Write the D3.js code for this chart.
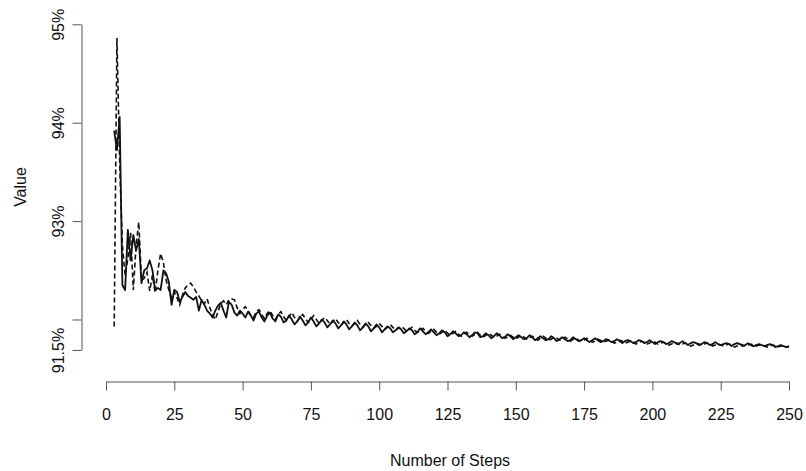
<!DOCTYPE html>
<html><head><meta charset="utf-8">
<script src="https://cdn.jsdelivr.net/npm/d3@7"></script>
<style>
html,body{margin:0;padding:0;background:#fff;}
text{font-family:"Liberation Sans",Arial,Helvetica,sans-serif;fill:#111;}
</style></head>
<body><svg id="c" width="806" height="471"></svg>
<script>
const firstStep = 3;
const solidValues = [
93.92,93.72,94.06,92.35,92.30,92.91,92.60,92.86,92.70,92.82,
92.37,92.50,92.52,92.60,92.50,92.30,92.32,92.30,92.50,92.47,
92.38,92.15,92.30,92.28,92.18,92.23,92.28,92.24,92.22,92.20,
92.23,92.09,92.20,92.15,92.09,92.06,92.02,92.09,92.14,92.17,
92.09,92.02,92.18,92.15,92.07,92.04,92.09,92.06,92.02,
92.08,92.04,91.99,92.06,92.08,92.02,91.98,92.04,92.07,92.01,
91.98,92.05,92.03,91.97,91.99,92.04,92.00,91.95,91.98,92.03,
91.99,91.94,91.97,92.02,91.98,91.93,91.96,92.00,91.97,91.92,
91.95,91.99,91.96,91.91,91.94,91.98,91.95,91.90,91.93,91.97,
91.94,91.89,91.92,91.96,91.93,91.88,91.91,91.95,91.92,91.87,
91.90,91.93,91.91,91.87,91.89,91.92,91.90,91.86,91.88,91.91,
91.89,91.85,91.87,91.91,91.88,91.85,91.87,91.90,91.87,91.84,
91.86,91.89,91.87,91.83,91.85,91.88,91.86,91.83,91.84,91.87,
91.85,91.82,91.84,91.87,91.86,91.82,91.83,91.86,91.84,91.81,
91.83,91.86,91.84,91.81,91.82,91.85,91.83,91.80,91.82,91.84,
91.82,91.80,91.81,91.84,91.82,91.79,91.81,91.83,91.81,91.79,
91.80,91.83,91.81,91.78,91.80,91.82,91.80,91.78,91.79,91.82,
91.80,91.78,91.79,91.81,91.79,91.77,91.79,91.81,91.79,91.77,
91.78,91.80,91.79,91.77,91.78,91.80,91.78,91.76,91.78,91.79,
91.78,91.76,91.77,91.79,91.78,91.76,91.77,91.79,91.77,91.75,
91.77,91.78,91.77,91.75,91.76,91.78,91.77,91.75,91.76,91.78,
91.76,91.74,91.76,91.77,91.76,91.74,91.75,91.77,91.76,91.74,
91.75,91.77,91.75,91.74,91.75,91.76,91.75,91.73,91.75,91.76,
91.75,91.73,91.74,91.76,91.74,91.73,91.74,91.75,91.74,91.73,
91.74,91.75,91.74,91.72,91.73,91.74,91.73,91.72,91.73
];
const dashedValues = [
91.93,94.86,93.60,92.75,92.45,92.62,92.88,92.30,92.75,92.99,
92.40,92.42,92.48,92.29,92.45,92.27,92.50,92.67,92.58,92.40,
92.30,92.22,92.28,92.22,92.15,92.25,92.32,92.35,92.37,92.33,
92.28,92.24,92.19,92.16,92.21,92.12,92.05,92.00,92.08,92.16,
92.19,92.15,92.20,92.21,92.20,92.12,92.06,92.10,92.13,
92.09,92.04,92.02,92.08,92.10,92.05,92.01,92.06,92.09,92.04,
92.00,92.05,92.08,92.03,91.99,92.03,92.07,92.02,91.98,92.02,
92.05,92.01,91.97,92.00,92.04,92.00,91.96,91.99,92.02,91.99,
91.95,91.98,92.01,91.97,91.94,91.97,92.00,91.96,91.93,91.96,
91.99,91.95,91.92,91.95,91.97,91.94,91.91,91.93,91.96,91.93,
91.90,91.92,91.95,91.92,91.89,91.91,91.93,91.91,91.88,91.90,
91.92,91.89,91.87,91.89,91.91,91.88,91.86,91.88,91.90,91.87,
91.85,91.87,91.89,91.86,91.84,91.86,91.88,91.85,91.83,91.85,
91.87,91.85,91.83,91.85,91.87,91.84,91.82,91.84,91.86,91.84,
91.82,91.83,91.85,91.83,91.81,91.82,91.84,91.82,91.80,91.82,
91.84,91.82,91.80,91.81,91.83,91.81,91.79,91.81,91.83,91.81,
91.79,91.80,91.82,91.81,91.79,91.80,91.82,91.80,91.78,91.80,
91.81,91.79,91.78,91.79,91.81,91.79,91.77,91.78,91.80,91.79,
91.77,91.78,91.79,91.78,91.76,91.77,91.79,91.78,91.76,91.77,
91.78,91.77,91.75,91.76,91.78,91.77,91.75,91.76,91.78,91.77,
91.75,91.76,91.77,91.76,91.74,91.75,91.77,91.76,91.74,91.75,
91.76,91.75,91.73,91.74,91.76,91.75,91.74,91.75,91.76,91.75,
91.73,91.74,91.75,91.74,91.73,91.74,91.75,91.74,91.72,91.73,
91.75,91.74,91.73,91.74,91.75,91.74,91.73,91.74,91.74,91.73,
91.72,91.73,91.74,91.73,91.72,91.73,91.73,91.72,91.72
];
const xTickValues = [0,25,50,75,100,125,150,175,200,225,250];
const yTickValues = [91.69,92,93,94,95];
const yTickLabels = ["91.5%","","93%","94%","95%"];
const xTitle = "Number of Steps";
const yTitle = "Value";

const svg = d3.select("#c");
const x = d3.scaleLinear().domain([0,250]).range([106,789]);
const y = d3.scaleLinear().domain([d3.min(yTickValues), d3.max(yTickValues)]).range([350,24.3]);

const solid = solidValues.map((v,i)=>({s:firstStep+i, v}));
const dashed = dashedValues.map((v,i)=>({s:firstStep+i, v}));
const line = d3.line().x(d=>x(d.s)).y(d=>y(d.v));

svg.append("path").datum(dashed).attr("d",line)
  .attr("fill","none").attr("stroke","#111").attr("stroke-width",1.6)
  .attr("stroke-dasharray","5,3");
svg.append("path").datum(solid).attr("d",line)
  .attr("fill","none").attr("stroke","#111").attr("stroke-width",1.8)
  .attr("stroke-linejoin","round");

// x axis
const gx = svg.append("g").attr("transform","translate(0,381.5)")
  .call(d3.axisBottom(x).tickValues(xTickValues).tickFormat(d3.format("d")).tickSize(9).tickSizeOuter(0).tickPadding(18));
gx.select(".domain").attr("stroke","#555");
gx.selectAll(".tick line").attr("stroke","#555");
gx.selectAll("text").attr("font-size",16).attr("fill","#111");

// y axis
const gy = svg.append("g").attr("transform","translate(81.5,0)")
  .call(d3.axisLeft(y).tickValues(yTickValues).tickSize(9).tickSizeOuter(0)
    .tickFormat((d,i)=>yTickLabels[i]));
gy.select(".domain").attr("stroke","#555");
gy.selectAll(".tick line").attr("stroke","#555");
gy.selectAll(".tick text")
  .attr("font-size",16).attr("fill","#111")
  .attr("x",null).attr("dy",null)
  .attr("text-anchor","middle")
  .attr("transform","translate(-18,0) rotate(-90)");

svg.append("text").attr("x",450).attr("y",466).attr("text-anchor","middle")
  .attr("font-size",16).text(xTitle);
svg.append("text").attr("transform","translate(26,187) rotate(-90)")
  .attr("text-anchor","middle").attr("font-size",16).text(yTitle);
</script></body></html>
